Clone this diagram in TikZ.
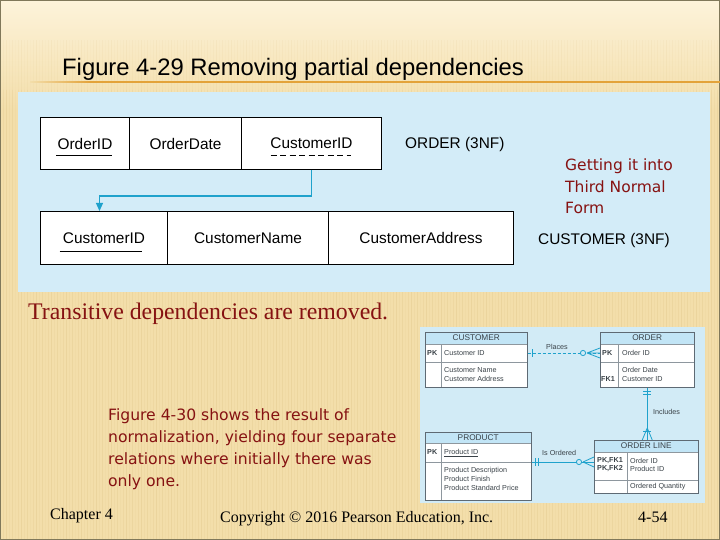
\documentclass[tikz,border=0pt]{standalone}
\usepackage{fontspec}
\setmainfont{Liberation Serif}
\setsansfont{Liberation Sans}
\newfontfamily\dejavu{DejaVu Sans}
\usetikzlibrary{arrows.meta,calc}
\definecolor{bgbeige}{HTML}{F3DEAA}
\definecolor{bgtop}{HTML}{FDF3DA}
\definecolor{stripe}{HTML}{D9BC7C}
\definecolor{panelblue}{HTML}{D3ECF8}
\definecolor{erblue}{HTML}{D2EBF6}
\definecolor{hdrblue}{HTML}{C2E5F6}
\definecolor{cyanline}{HTML}{1FA2CC}
\definecolor{darkred}{HTML}{861212}
\definecolor{titleline}{HTML}{E3A33A}
\definecolor{framecol}{HTML}{80785A}
\definecolor{ertext}{HTML}{3A4248}
\definecolor{erborder}{HTML}{5E6A74}
\begin{document}
\begin{tikzpicture}[x=1pt,y=-1pt,
  cell/.style={draw=black,line width=1pt,fill=white,anchor=north west,inner sep=0pt,minimum height=52pt,font=\sffamily\fontsize{15.4}{18}\selectfont},
  lbl/.style={anchor=base west,inner sep=0pt,font=\sffamily\fontsize{15.4}{18}\selectfont},
  erbox/.style={draw=erborder,line width=0.5pt,fill=white,anchor=north west,inner sep=0pt},
  ertxt/.style={anchor=west,inner sep=0pt,text=ertext,align=left,font=\sffamily\fontsize{7.2}{8.6}\selectfont},
  erkey/.style={ertxt,font=\sffamily\bfseries\fontsize{7.2}{8.6}\selectfont},
  erhdr/.style={inner sep=0pt,text=ertext,font=\sffamily\fontsize{8.3}{10}\selectfont},
  erline/.style={draw=cyanline,line width=0.8pt},
  erinner/.style={draw=erborder!70,line width=0.4pt},
  ]
\useasboundingbox (0,0) rectangle (720,540);
% background
\fill[bgbeige] (0,0) rectangle (720,540);
\shade[top color=bgtop,bottom color=bgbeige] (0,0) rectangle (720,110);
\foreach \i in {0,...,240}{
  \pgfmathsetmacro{\op}{0.08+0.05*mod(\i*7,5)}
  \draw[stripe,line width=1pt,opacity=0.4*\op] (3*\i,40) -- (3*\i,90);
  \draw[stripe,line width=1pt,opacity=\op] (3*\i,90) -- (3*\i,540);
}
\draw[framecol,line width=1.5pt] (0,0) rectangle (720,540);
% title
\node[anchor=base west,inner sep=0pt,font=\sffamily\fontsize{23.8}{28}\selectfont] (title) at (62,76) {Figure 4-29 Removing partial dependencies};
\shade[left color=bgbeige,right color=titleline] (30,81.2) rectangle (90,82.8);
\fill[titleline] (90,81.2) rectangle (720,82.8);
% blue panel
\fill[panelblue] (18,92) rectangle (710,292);
% ORDER table
\node[cell,minimum width=89pt] (oid) at (40,117) {OrderID};
\node[cell,minimum width=112pt] (odate) at (129,117) {OrderDate};
\node[cell,minimum width=140pt] (ocid) at (241,117) {CustomerID};
\node[lbl] (olbl) at (405,148.5) {ORDER (3NF)};
\draw[line width=0.9pt] ($(oid.center)+(-29,12)$) -- ($(oid.center)+(27,12)$);
\draw[line width=0.9pt,dash pattern=on 6pt off 3.5pt] ($(ocid.center)+(-41,12)$) -- ($(ocid.center)+(39,12)$);
% CUSTOMER table
\node[cell,minimum width=127pt,minimum height=53pt] (ccid) at (40,211) {CustomerID};
\node[cell,minimum width=161pt,minimum height=53pt] (cname) at (167,211) {CustomerName};
\node[cell,minimum width=185pt,minimum height=53pt] (caddr) at (328,211) {CustomerAddress};
\node[lbl] (clbl) at (538,244.5) {CUSTOMER (3NF)};
\draw[line width=0.9pt] ($(ccid.center)+(-44.5,13.5)$) -- ($(ccid.center)+(37.5,13.5)$);
% dependency arrow
\draw[cyanline,line width=1.2pt,-{Triangle[length=8pt,width=7pt]}] (ocid.south) -- ++(0,26) -| ($(ccid.north)+(-4.5,0)$);
% red note
\node[anchor=north west,inner sep=0pt,align=left,text=darkred,font=\dejavu\fontsize{15.5}{21.5}\selectfont] (note) at (565,159) {Getting it into\\Third Normal\\Form};
% transitive line
\node[anchor=base west,inner sep=0pt,text=darkred,font=\fontsize{23.8}{28}\selectfont] (trans) at (28,319) {Transitive dependencies are removed.};
% figure 4-30 text
\node[anchor=north west,inner sep=0pt,align=left,text=darkred,font=\dejavu\fontsize{15.6}{22}\selectfont] (fig30) at (108,408) {Figure 4-30 shows the result of\\normalization, yielding four separate\\relations where initially there was\\only one.};
% footer
\node[anchor=base west,inner sep=0pt,font=\fontsize{16}{19}\selectfont] (chap) at (50,519) {Chapter 4};
\node[anchor=base west,inner sep=0pt,font=\fontsize{16}{19}\selectfont] (copy) at (220,522) {Copyright \textcopyright{} 2016 Pearson Education, Inc.};
\node[anchor=base west,inner sep=0pt,font=\fontsize{16}{19}\selectfont] (pg) at (638,522) {4-54};
% ER diagram panel
\fill[erblue] (420,327) rectangle (705,503);
% CUSTOMER entity
\node[erbox,minimum width=102pt,minimum height=55pt] (cust) at (425,332) {};
\fill[hdrblue] (cust.north west) rectangle ($(cust.north east)+(0,12)$);
\draw[erinner] ($(cust.north west)+(0,12)$) -- ($(cust.north east)+(0,12)$);
\draw[erinner] ($(cust.north west)+(0,30)$) -- ($(cust.north east)+(0,30)$);
\draw[erinner] ($(cust.north west)+(16,12)$) -- ($(cust.south west)+(16,0)$);
\draw[draw=erborder,line width=0.5pt] (cust.north west) rectangle (cust.south east);
\node[erhdr] (custh) at ($(cust.north)+(0,6)$) {CUSTOMER};
\node[erkey] (custpk) at (427,353) {PK};
\node[ertxt] (custid) at (444,353) {Customer ID};
\node[ertxt] (custat) at (444,374.5) {Customer Name\\Customer Address};
% ORDER entity
\node[erbox,minimum width=94pt,minimum height=55pt] (ord) at (600,332) {};
\fill[hdrblue] (ord.north west) rectangle ($(ord.north east)+(0,12)$);
\draw[erinner] ($(ord.north west)+(0,12)$) -- ($(ord.north east)+(0,12)$);
\draw[erinner] ($(ord.north west)+(0,30)$) -- ($(ord.north east)+(0,30)$);
\draw[erinner] ($(ord.north west)+(18,12)$) -- ($(ord.south west)+(18,0)$);
\draw[draw=erborder,line width=0.5pt] (ord.north west) rectangle (ord.south east);
\node[erhdr] (ordh) at ($(ord.north)+(0,6)$) {ORDER};
\node[erkey] (ordpk) at (602,353) {PK};
\node[ertxt] (ordid) at (622,353) {Order ID};
\node[ertxt] (orddt) at (622,370) {Order Date};
\node[erkey] (ordfk) at (601,379) {FK1};
\node[ertxt] (ordcid) at (622,379) {Customer ID};
% PRODUCT entity
\node[erbox,minimum width=106pt,minimum height=68pt] (prod) at (425,432) {};
\fill[hdrblue] (prod.north west) rectangle ($(prod.north east)+(0,11)$);
\draw[erinner] ($(prod.north west)+(0,11)$) -- ($(prod.north east)+(0,11)$);
\draw[erinner] ($(prod.north west)+(0,30)$) -- ($(prod.north east)+(0,30)$);
\draw[erinner] ($(prod.north west)+(16,11)$) -- ($(prod.south west)+(16,0)$);
\draw[draw=erborder,line width=0.5pt] (prod.north west) rectangle (prod.south east);
\node[erhdr] (prodh) at ($(prod.north)+(0,5.5)$) {PRODUCT};
\node[erkey] (prodpk) at (427,452) {PK};
\node[ertxt] (prodid) at (444,452) {Product ID};
\draw[ertext,line width=0.4pt] ($(prodid.south west)+(0,1)$) -- ($(prodid.south east)+(0,1)$);
\node[ertxt] (prodat) at (444,479) {Product Description\\Product Finish\\Product Standard Price};
% ORDER LINE entity
\node[erbox,minimum width=104pt,minimum height=53pt] (oline) at (594,440) {};
\fill[hdrblue] (oline.north west) rectangle ($(oline.north east)+(0,12)$);
\draw[erinner] ($(oline.north west)+(0,12)$) -- ($(oline.north east)+(0,12)$);
\draw[erinner] ($(oline.north west)+(0,40)$) -- ($(oline.north east)+(0,40)$);
\draw[erinner] ($(oline.north west)+(33,12)$) -- ($(oline.south west)+(33,0)$);
\draw[draw=erborder,line width=0.5pt] (oline.north west) rectangle (oline.south east);
\node[erhdr] (olineh) at ($(oline.north)+(0,6)$) {ORDER LINE};
\node[erkey] (olpk) at (597,464.75) {PK,FK1\\PK,FK2};
\node[ertxt] (olid) at (630,464.75) {Order ID\\Product ID};
\node[ertxt] (olqty) at (630,487) {Ordered Quantity};
% Places relationship
\coordinate (pA) at ($(cust.north east)+(0,21)$);
\coordinate (pB) at ($(ord.north west)+(0,21)$);
\draw[erline,dash pattern=on 3pt off 2pt] (pA) -- (pB);
\draw[erline] ($(pA)+(5,-4)$) -- ($(pA)+(5,4)$);
\draw[erline,fill=erblue] ($(pB)+(-17,0)$) circle (2.6);
\draw[erline] ($(pB)+(-13,0)$) -- ($(pB)+(0,-5)$) ($(pB)+(-13,0)$) -- (pB) ($(pB)+(-13,0)$) -- ($(pB)+(0,5)$);
\node[ertxt,anchor=center] (places) at (557,347) {Places};
% Includes relationship
\coordinate (iA) at (ord.south);
\coordinate (iB) at (ord.south |- oline.north);
\draw[erline] (iA) -- (iB);
\draw[erline] ($(iA)+(-4,3.5)$) -- ++(8,0) ($(iA)+(-4,6.5)$) -- ++(8,0);
\draw[erline] ($(iB)+(0,-12)$) -- ($(iB)+(-5,0)$) ($(iB)+(0,-12)$) -- ($(iB)+(5,0)$);
\draw[erline] ($(iB)+(-4,-9)$) -- ++(8,0);
\node[ertxt] (incl) at (653,412) {Includes};
% Is Ordered relationship
\coordinate (oA) at ($(prod.north east)+(0,30)$);
\coordinate (oB) at ($(oline.north west)+(0,22)$);
\draw[erline] (oA) -- (oB);
\draw[erline] ($(oA)+(3.5,-4)$) -- ++(0,8) ($(oA)+(6.5,-4)$) -- ++(0,8);
\draw[erline,fill=erblue] ($(oB)+(-15,0)$) circle (2.6);
\draw[erline] ($(oB)+(-11,0)$) -- ($(oB)+(0,-5)$) ($(oB)+(-11,0)$) -- ($(oB)+(0,5)$);
\node[ertxt] (isord) at (542,453) {Is Ordered};
\end{tikzpicture}
\end{document}
